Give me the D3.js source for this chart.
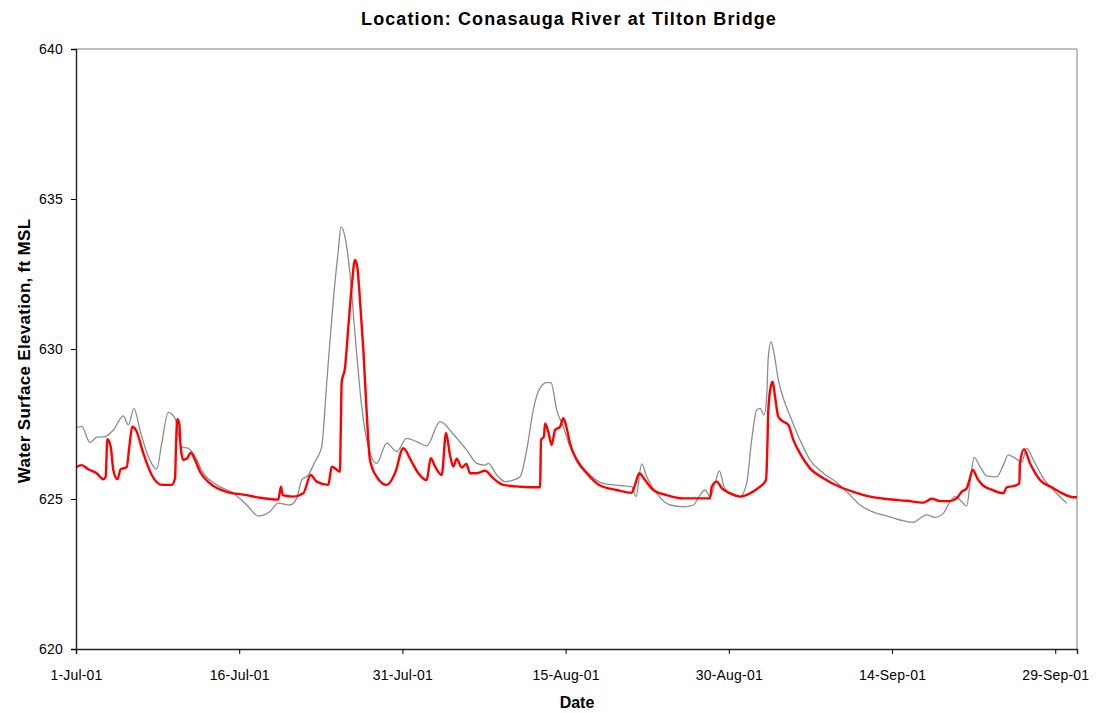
<!DOCTYPE html>
<html>
<head>
<meta charset="utf-8">
<script src="https://cdn.jsdelivr.net/npm/d3@7"></script>
<style>
  body { margin: 0; background: #fff; }
  svg { display: block; font-family: "Liberation Sans", Arial, sans-serif; }
</style>
</head>
<body>
<svg id="chart" width="1097" height="713"></svg>
<script>
// days after 1-Jul-01, elevation (ft MSL)
var observed = [
  [0, 627.37], [0.52, 627.42], [1.29, 626.88], [1.9, 627.06], [2.67, 627.08], [3.43, 627.3],
  [4.35, 627.77], [4.81, 627.47], [5.33, 628.02], [5.88, 627.3], [6.65, 626.41], [7.42, 626.0],
  [7.88, 626.86], [8.48, 627.89], [9.1, 627.69], [9.71, 626.74], [10.32, 626.69], [10.78, 626.52],
  [11.7, 625.86], [12.93, 625.47], [14.46, 625.19], [15.69, 624.8], [16.76, 624.43], [17.83, 624.58],
  [18.59, 624.86], [19.67, 624.8], [20.28, 625.02], [20.74, 625.63], [21.35, 625.8], [21.97, 626.25],
  [22.58, 626.74], [23.04, 628.86], [23.65, 631.63], [24.11, 633.3], [24.36, 634.08], [24.72, 633.74],
  [25.18, 632.52], [25.64, 630.53], [26.26, 628.08], [26.87, 626.74], [27.64, 626.19], [28.56, 626.86],
  [29.48, 626.58], [30.39, 627.02], [31.31, 626.91], [32.23, 626.77], [33.46, 627.58], [34.68, 627.16],
  [35.91, 626.63], [36.83, 626.19], [37.59, 626.13], [37.9, 626.19], [38.67, 625.8], [39.43, 625.58],
  [40.19, 625.63], [40.81, 625.74], [41.42, 626.63], [42.03, 627.97], [42.49, 628.58], [43.26, 628.88],
  [43.66, 628.88], [44.18, 627.97], [44.79, 627.41], [45.4, 626.74], [46.32, 626.19], [47.24, 625.8],
  [48.46, 625.52], [50.0, 625.45], [51.07, 625.41], [51.47, 625.08], [51.99, 626.17], [52.45, 625.74],
  [53.37, 625.19], [54.6, 624.8], [55.82, 624.74], [56.74, 624.8], [57.35, 625.13], [57.81, 625.3],
  [58.27, 625.08], [58.73, 625.52], [59.13, 625.94], [59.56, 625.41], [60.11, 625.19], [61.03, 625.08],
  [61.64, 625.52], [62.1, 626.97], [62.56, 627.97], [62.87, 628.02], [63.24, 627.8], [63.48, 628.41],
  [63.63, 629.74], [63.88, 630.24], [64.15, 629.86], [64.55, 628.97], [65.17, 628.19], [65.78, 627.63],
  [66.54, 626.97], [67.46, 626.3], [68.69, 625.86], [69.92, 625.55], [70.98, 625.19], [72.06, 624.8],
  [73.28, 624.56], [74.51, 624.44], [75.74, 624.3], [76.96, 624.22], [77.57, 624.36], [78.19, 624.47],
  [78.95, 624.39], [79.71, 624.52], [80.33, 624.91], [80.79, 625.08], [81.25, 624.97], [81.87, 624.77],
  [82.23, 625.74], [82.54, 626.39], [83.09, 626.08], [83.7, 625.77], [84.62, 625.74], [85.23, 626.13],
  [85.69, 626.47], [86.3, 626.36], [86.92, 626.24], [87.38, 626.69], [87.99, 626.3], [88.91, 625.69],
  [89.83, 625.3], [91.05, 624.86]
];

var simulated = [
  [0, 626.06], [0.52, 626.13], [1.13, 625.99], [1.9, 625.86], [2.51, 625.66], [2.73, 625.74],
  [2.88, 626.99], [3.19, 626.74], [3.43, 625.97], [3.8, 625.66], [4.11, 625.99], [4.66, 626.06],
  [4.9, 626.74], [5.17, 627.41], [5.51, 627.3], [6.19, 626.52], [6.96, 625.8], [7.88, 625.47],
  [8.8, 625.47], [9.1, 625.69], [9.19, 626.74], [9.31, 627.66], [9.49, 627.52], [9.62, 626.74],
  [9.86, 626.3], [10.23, 626.36], [10.54, 626.54], [10.94, 626.3], [11.4, 625.91], [12.32, 625.52],
  [13.85, 625.24], [15.69, 625.13], [16.91, 625.04], [18.59, 624.98], [18.84, 625.41], [19.0, 625.13],
  [19.97, 625.08], [20.89, 625.19], [21.57, 625.8], [22.12, 625.58], [23.19, 625.47], [23.5, 626.08],
  [23.81, 626.02], [24.26, 625.91], [24.33, 627.19], [24.42, 628.91], [24.72, 629.36], [25.03, 630.74],
  [25.34, 632.08], [25.64, 632.97], [25.85, 632.74], [26.1, 631.63], [26.41, 629.97], [26.72, 627.86],
  [27.02, 626.3], [27.64, 625.74], [28.56, 625.47], [29.32, 625.86], [30.08, 626.69], [30.85, 626.24],
  [31.46, 625.86], [32.23, 625.63], [32.6, 626.36], [33.0, 626.08], [33.61, 625.8], [34.01, 627.2],
  [34.38, 626.45], [34.68, 626.08], [34.99, 626.34], [35.45, 626.05], [35.88, 626.17], [36.21, 625.86],
  [36.83, 625.86], [37.59, 625.94], [38.35, 625.69], [39.27, 625.47], [40.81, 625.41], [42.65, 625.39],
  [42.74, 626.97], [43.01, 627.08], [43.11, 627.52], [43.41, 627.24], [43.72, 626.8], [44.03, 627.3],
  [44.49, 627.41], [44.79, 627.69], [45.1, 627.36], [45.4, 626.86], [46.02, 626.3], [46.94, 625.86],
  [48.16, 625.45], [49.69, 625.3], [51.07, 625.21], [51.38, 625.47], [51.77, 625.86], [52.3, 625.63],
  [53.06, 625.3], [54.29, 625.13], [55.82, 625.02], [57.35, 625.02], [58.27, 625.02], [58.43, 625.41],
  [58.89, 625.58], [59.35, 625.36], [60.11, 625.19], [61.03, 625.08], [61.95, 625.19], [62.87, 625.41],
  [63.42, 625.63], [63.54, 626.74], [63.63, 627.97], [63.85, 628.74], [64.03, 628.91], [64.25, 628.41],
  [64.55, 627.74], [65.01, 627.58], [65.47, 627.47], [65.93, 626.97], [66.54, 626.52], [67.46, 626.02],
  [68.69, 625.69], [70.22, 625.4], [71.44, 625.24], [72.98, 625.08], [74.51, 625.0], [76.35, 624.94],
  [77.88, 624.88], [78.65, 625.01], [79.41, 624.93], [80.33, 624.93], [80.94, 625.02], [81.4, 625.24],
  [81.87, 625.36], [82.11, 625.63], [82.42, 625.97], [82.84, 625.69], [83.3, 625.47], [84.1, 625.32],
  [85.23, 625.19], [85.54, 625.39], [86.15, 625.43], [86.7, 625.52], [86.76, 626.19], [87.13, 626.66],
  [87.68, 626.19], [88.6, 625.63], [89.83, 625.36], [90.75, 625.17], [91.66, 625.06], [92.0, 625.06]
];

var yTicks = [620, 625, 630, 635, 640];
var xTickDays = [0, 15, 30, 45, 60, 75, 90];

var startDate = new Date(2001, 6, 1);
var endDate = new Date(2001, 9, 1);
function toDate(d) { return new Date(startDate.getTime() + d * 86400000); }

var svg = d3.select("#chart"),
    margin = {top: 49, right: 20, bottom: 64, left: 76},
    width = +svg.attr("width") - margin.left - margin.right,
    height = +svg.attr("height") - margin.top - margin.bottom,
    g = svg.append("g").attr("transform", "translate(" + margin.left + "," + margin.top + ")");

var x = d3.scaleTime().domain([startDate, endDate]).range([0, width]);
var y = d3.scaleLinear().domain([620, 640]).range([height, 0]);

var fmt = d3.timeFormat("%-d-%b-%y");

// frame (top and right in gray)
g.append("line").attr("x1", 0).attr("x2", width).attr("y1", 0).attr("y2", 0)
  .attr("stroke", "#808080").attr("stroke-width", 1);
g.append("line").attr("x1", width).attr("x2", width).attr("y1", 0).attr("y2", height)
  .attr("stroke", "#808080").attr("stroke-width", 1);

var line = d3.line()
  .curve(d3.curveMonotoneX)
  .x(function(d) { return x(toDate(d[0])); })
  .y(function(d) { return y(d[1]); });

g.append("path")
  .datum(observed)
  .attr("fill", "none")
  .attr("stroke", "#8c8c8c")
  .attr("stroke-width", 1.3)
  .attr("d", line);

g.append("path")
  .datum(simulated)
  .attr("fill", "none")
  .attr("stroke", "#ff0000")
  .attr("stroke-width", 2.4)
  .attr("stroke-linejoin", "round")
  .attr("d", line);

var xAxis = g.append("g")
  .attr("transform", "translate(0," + height + ")")
  .call(d3.axisBottom(x).tickValues(xTickDays.map(toDate)).tickFormat(fmt).tickSize(5).tickPadding(16));

var yAxis = g.append("g")
  .call(d3.axisLeft(y).tickValues(yTicks).tickSize(5).tickPadding(8));

[xAxis, yAxis].forEach(function(a) {
  a.select(".domain").attr("stroke", "#222").attr("stroke-width", 1.4);
  a.selectAll(".tick line").attr("stroke", "#000");
  a.selectAll(".tick text")
    .style("font-family", "'Liberation Sans', Arial, sans-serif")
    .style("font-size", "14px")
    .style("letter-spacing", "0.2px")
    .attr("fill", "#000");
});

// title
svg.append("text")
  .attr("x", 569)
  .attr("y", 25)
  .attr("text-anchor", "middle")
  .style("font-size", "18px")
  .style("font-weight", "bold")
  .style("letter-spacing", "1.1px")
  .text("Location: Conasauga River at Tilton Bridge");

// axis titles
svg.append("text")
  .attr("x", 577)
  .attr("y", 708)
  .attr("text-anchor", "middle")
  .style("font-size", "16px")
  .style("font-weight", "bold")
  .text("Date");

svg.append("text")
  .attr("transform", "translate(30,351) rotate(-90)")
  .attr("text-anchor", "middle")
  .style("font-size", "17px")
  .style("font-weight", "bold")
  .style("letter-spacing", "0.3px")
  .text("Water Surface Elevation, ft MSL");
</script>
</body>
</html>
